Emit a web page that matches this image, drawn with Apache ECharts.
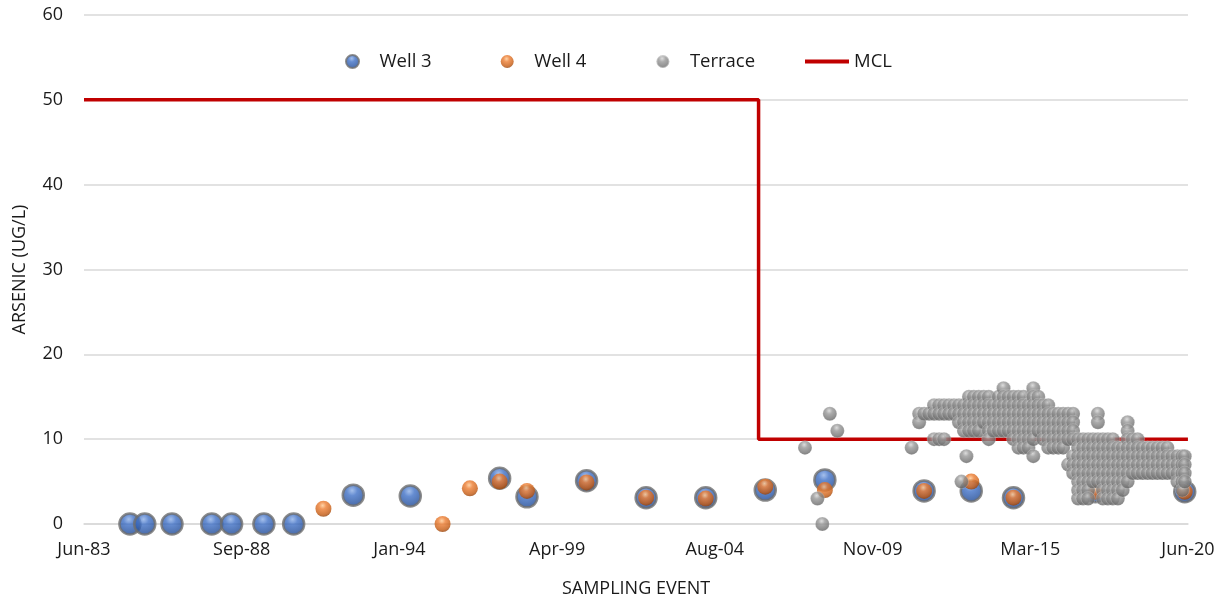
<!DOCTYPE html>
<html>
<head>
<meta charset="utf-8">
<title>Arsenic sampling</title>
<script src="https://cdn.jsdelivr.net/npm/echarts@6/dist/echarts.min.js"></script>
<style>
  html, body { margin: 0; padding: 0; background: #fff; }
  #arsenicChart { width: 1225px; height: 599px; }
</style>
</head>
<body>
<div id="arsenicChart"></div>
<script>
// x axis ticks: days after 1 Jun 1983, one label every 1934 days
var xTickLabels = ["Jun-83", "Sep-88", "Jan-94", "Apr-99", "Aug-04", "Nov-09", "Mar-15", "Jun-20"];
var xTickStep = 1934;

var well3Dates = ["1984-12", "1985-06", "1986-05", "1987-09", "1988-05", "1989-06", "1990-06",
  "1992-06", "1994-05", "1997-05", "1998-04", "2000-04", "2002-04", "2004-04", "2006-04",
  "2008-04", "2011-08", "2013-03", "2014-08", "2017-05", "2020-05"];
var well3Values = [0, 0, 0, 0, 0, 0, 0, 3.4, 3.3, 5.4, 3.2, 5.1, 3.1, 3.1, 4.0, 5.2, 3.9, 3.9, 3.1, 3.8, 3.8];

var well4Dates = ["1991-06", "1995-06", "1996-05", "1997-05", "1998-04", "2000-04", "2002-04",
  "2004-04", "2006-04", "2008-04", "2011-08", "2013-03", "2014-08", "2017-05", "2020-05"];
var well4Values = [1.8, 0, 4.2, 5.0, 3.9, 4.9, 3.1, 3.0, 4.4, 4.0, 3.9, 5.0, 3.1, 3.8, 3.8];

// terrace wells: sampling date -> results on that date
var terrace = [
  ["2007-08", [9]], ["2008-01", [3]], ["2008-03", [0]], ["2008-06", [13]], ["2008-09", [11]],
  ["2011-03", [9]], ["2011-06", [13, 12]], ["2011-08", [13]], ["2011-10", [13]],
  ["2011-12", [14, 13, 10]], ["2012-02", [14, 13, 10]], ["2012-04", [14, 13, 10]],
  ["2012-06", [14, 13]], ["2012-08", [14, 13]], ["2012-10", [14, 13, 12]], ["2012-11", [5]],
  ["2012-12", [14, 13, 12, 11]], ["2013-01", [8]], ["2013-02", [15, 14, 13, 12, 11]],
  ["2013-04", [15, 14, 13, 12, 11]], ["2013-06", [15, 14, 13, 12, 11]], ["2013-08", [15, 14, 13, 12]],
  ["2013-10", [15, 14, 13, 12, 11, 10]], ["2013-12", [14, 13, 12, 11]],
  ["2014-02", [15, 14, 13, 12, 11]], ["2014-04", [16, 15, 14, 13, 12, 11]],
  ["2014-06", [15, 14, 13, 12, 11]], ["2014-08", [15, 14, 13, 12, 11, 10]],
  ["2014-10", [15, 14, 13, 12, 11, 10, 9]], ["2014-12", [15, 14, 13, 12, 11, 10, 9]],
  ["2015-02", [14, 13, 12, 11, 10, 9]], ["2015-04", [16, 15, 14, 13, 12, 11, 10, 8]],
  ["2015-06", [15, 14, 13, 12, 11]], ["2015-08", [14, 13, 12, 11, 10]],
  ["2015-10", [14, 13, 12, 11, 10, 9]], ["2015-12", [13, 12, 11, 10, 9]],
  ["2016-02", [13, 12, 11, 10, 9]], ["2016-04", [13, 12, 11, 10, 9]],
  ["2016-06", [13, 12, 11, 10, 7]], ["2016-08", [13, 12, 11, 10, 8, 7, 6]],
  ["2016-10", [10, 9, 8, 7, 6, 5, 4, 3]], ["2016-12", [10, 9, 8, 7, 6, 5, 4, 3]],
  ["2017-02", [10, 9, 8, 7, 6, 5, 4, 3]], ["2017-04", [10, 9, 8, 7, 6, 5]],
  ["2017-06", [13, 12, 10, 9, 8, 7, 6, 5]], ["2017-08", [10, 9, 8, 7, 6, 5, 4, 3]],
  ["2017-10", [10, 9, 8, 7, 6, 5, 4, 3]], ["2017-12", [10, 9, 8, 7, 6, 5, 4, 3]],
  ["2018-02", [9, 8, 7, 6, 5, 4, 3]], ["2018-04", [9, 8, 7, 6, 5, 4]],
  ["2018-06", [12, 11, 10, 9, 8, 7, 6, 5]], ["2018-08", [10, 9, 8, 7, 6]],
  ["2018-10", [10, 9, 8, 7, 6]], ["2018-12", [9, 8, 7, 6]], ["2019-02", [9, 8, 7, 6]],
  ["2019-04", [9, 8, 7, 6]], ["2019-06", [9, 8, 7, 6]], ["2019-08", [9, 8, 7, 6]],
  ["2019-10", [9, 8, 7, 6]], ["2019-12", [8, 7, 6]], ["2020-02", [8, 7, 6, 5]],
  ["2020-04", [8, 7, 6, 5, 4]], ["2020-05", [8, 7, 6, 5]]
];

// MCL: 50 ug/L until Jan 2006, 10 ug/L after
var mclDates = ["1983-06-01", "2006-01-23", "2006-01-23", "2020-06-23"];
var mclValues = [50, 50, 10, 10];

function dayOf(s) {
  var p = s.split("-");
  var d = p[2] ? +p[2] : 15;
  return Math.round((Date.UTC(+p[0], +p[1] - 1, d) - Date.UTC(1983, 5, 1)) / 86400000);
}
function pairs(dates, vals) {
  return dates.map(function (d, i) { return [dayOf(d), vals[i]]; });
}
function sphere(light, mid, dark, edge) {
  return {
    type: "radial", x: 0.45, y: 0.3, r: 0.75,
    colorStops: [
      { offset: 0, color: light },
      { offset: 0.3, color: mid },
      { offset: 0.75, color: dark },
      { offset: 1, color: edge }
    ]
  };
}

var terraceData = [];
terrace.forEach(function (row) {
  row[1].forEach(function (v) { terraceData.push([dayOf(row[0]), v]); });
});

var font = "'Open Sans', Lato, sans-serif";
var txt = "#1a1a1a";
var chart = echarts.init(document.getElementById("arsenicChart"));

var legendBase = {
  top: 47,
  itemWidth: 44,
  itemHeight: 13,
  itemGap: 69,
  textStyle: { fontSize: 18.5, color: txt, fontFamily: font }
};

var option = {
  animation: false,
  textStyle: { fontFamily: font },
  grid: { left: 84, right: 37, top: 15, bottom: 75, containLabel: false, outerBoundsMode: "none" },
  legend: [
    Object.assign({}, legendBase, { left: 340, data: ["Well 3", "Well 4", "Terrace"] }),
    Object.assign({}, legendBase, {
      left: 800,
      data: [{ name: "MCL", icon: "path://M0,0 L44,0 L44,4 L0,4 Z", itemStyle: { color: "#c00000" } }]
    })
  ],
  xAxis: {
    type: "value",
    min: 0,
    max: xTickStep * (xTickLabels.length - 1),
    interval: xTickStep,
    name: "SAMPLING EVENT",
    nameLocation: "middle",
    nameGap: 56,
    nameTextStyle: { fontSize: 18, color: txt },
    axisLine: { show: true, lineStyle: { color: "#d9d9d9", width: 1.5 } },
    axisTick: { show: false },
    splitLine: { show: false },
    axisLabel: {
      margin: 17,
      fontSize: 18,
      color: txt,
      formatter: function (v) { return xTickLabels[Math.round(v / xTickStep)]; }
    }
  },
  yAxis: {
    type: "value",
    min: 0,
    max: 60,
    interval: 10,
    name: "ARSENIC (UG/L)",
    nameLocation: "middle",
    nameGap: 55,
    nameTextStyle: { fontSize: 18, color: txt },
    axisLine: { show: false },
    axisTick: { show: false },
    splitLine: { lineStyle: { color: "#d9d9d9", width: 1.5 } },
    axisLabel: { margin: 21, fontSize: 18, color: txt }
  },
  series: [
    {
      name: "MCL",
      type: "line",
      data: pairs(mclDates, mclValues),
      symbol: "none",
      lineStyle: { color: "#c00000", width: 3.5 },
      itemStyle: { color: "#c00000" },
      z: 1
    },
    {
      name: "Well 3",
      type: "scatter",
      data: pairs(well3Dates, well3Values),
      symbolSize: 21,
      itemStyle: {
        color: sphere("#8fb0e6", "#3f70c6", "#24509e", "#173670"),
        borderColor: "#6f6f6f",
        borderWidth: 2.5
      },
      z: 2
    },
    {
      name: "Well 4",
      type: "scatter",
      data: pairs(well4Dates, well4Values),
      symbolSize: 16,
      itemStyle: {
        color: sphere("#ffc890", "#ed7d31", "#c55a11", "#863a06")
      },
      z: 3
    },
    {
      name: "Terrace",
      type: "scatter",
      data: terraceData,
      symbolSize: 14,
      itemStyle: {
        color: sphere("#d4d4d4", "#979797", "#727272", "#4d4d4d"),
        borderColor: "rgba(255,255,255,0.45)",
        borderWidth: 0.6
      },
      z: 4
    }
  ]
};

chart.setOption(option);
</script>
</body>
</html>
